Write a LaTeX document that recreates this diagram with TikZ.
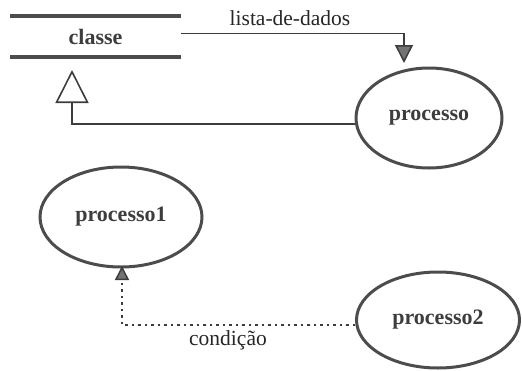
\documentclass[tikz,border=0pt]{standalone}
\usepackage{fontspec}
\setmainfont{Liberation Serif}
\usetikzlibrary{arrows.meta,shapes.geometric}
\definecolor{ink}{gray}{0.3}
\definecolor{tipfill}{gray}{0.45}
\tikzset{
  proc/.style={ellipse, draw=ink, line width=3pt, inner sep=0pt, font=\fontsize{22}{25}\selectfont\bfseries, text=ink!80!black},
  barline/.style={draw=ink, line width=3.5pt},
  conn/.style={draw=ink!80!black, line width=1.5pt},
  lbl/.style={font=\fontsize{21.5}{25}\selectfont, text=black!85},
  filledtip/.style={-{Triangle[length=#1,width=#1,fill=tipfill]}},
  dotline/.style={dash pattern=on 2.5pt off 4pt}
}
\begin{document}
\begin{tikzpicture}[x=1pt,y=-1pt]
\useasboundingbox (0,0) rectangle (522,370);
% classe
\node[minimum width=171pt, minimum height=41pt, inner sep=0pt, font=\fontsize{22}{25}\selectfont\bfseries, text=ink!80!black] (classe) at (95.5,36.5) {classe};
\draw[barline] (classe.north west) -- (classe.north east);
\draw[barline] (classe.south west) -- (classe.south east);
% ellipses
\node[proc, minimum width=146pt, minimum height=100pt] (processo) at (429,118) {processo};
\node[proc, minimum width=162pt, minimum height=100pt] (processo1) at (121,217) {processo1};
\node[proc, minimum width=163pt, minimum height=96pt] (processo2) at (438,320) {processo2};
% endpoints
\coordinate (ld) at (404,63);
\coordinate (inh) at (72,70);
\coordinate (cond) at (122,266);
% connectors
\draw[conn, filledtip=18pt] ([yshift=3pt]classe.east) -| (ld);
\node[lbl] (ldlabel) at (290,18) {lista-de-dados};
\draw[conn, -{Triangle[open,length=33pt,width=33pt,line width=1.6pt]}] ([yshift=-6pt]processo.west) -| (inh);
\draw[conn, dotline, filledtip=14pt] ([yshift=-5pt]processo2.west) -| (cond);
\node[lbl] (condlabel) at (228,340) {condição};
\end{tikzpicture}
\end{document}
